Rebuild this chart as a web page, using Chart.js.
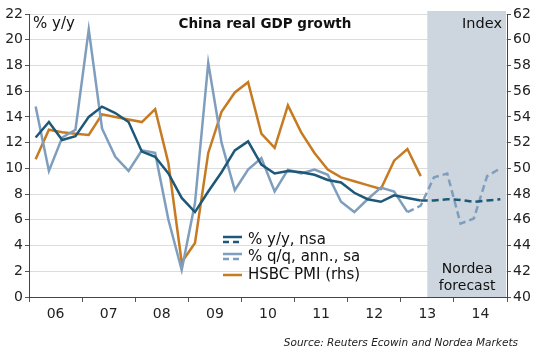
<!DOCTYPE html>
<html>
<head>
<meta charset="utf-8">
<script src="https://cdn.jsdelivr.net/npm/chart.js@4"></script>
<style>
  body { margin: 0; background: #fff; }
  #wrap { width: 535px; height: 354px; }
</style>
</head>
<body>
<div id="wrap"><canvas id="myChart"></canvas></div>
<script>
// year labels, one per 4 quarters (2006Q1 .. 2014Q4)
const years = ['06', '07', '08', '09', '10', '11', '12', '13', '14'];

// China real GDP, % y/y, nsa (last 6 = Nordea forecast)
const gdpYoy = [12.4, 13.6, 12.2, 12.5, 14.0, 14.8, 14.3, 13.6,
  11.3, 10.9, 9.6, 7.7, 6.6, 8.2, 9.7, 11.4,
  12.1, 10.3, 9.6, 9.8, 9.7, 9.5, 9.1, 8.9,
  8.1, 7.6, 7.4, 7.9, 7.7, 7.5,
  7.5, 7.6, 7.55, 7.4, 7.5, 7.6];

// % q/q, annualised, sa (from 2013Q2 = forecast)
const gdpQoq = [14.8, 9.8, 12.4, 13.0, 20.8, 13.1, 10.9, 9.8,
  11.4, 11.2, 6.0, 2.1, 7.3, 18.2, 12.0, 8.3,
  9.9, 10.8, 8.2, 9.9, 9.6, 9.9, 9.5, 7.4,
  6.6, 7.6, 8.5, 8.2, 6.6,
  7.1, 9.3, 9.6, 5.7, 6.1, 9.4, 10.0];

// HSBC PMI, quarterly (rhs)
const pmi = [50.7, 53.0, 52.8, 52.7, 52.6, 54.2, 54.0, 53.8,
  53.6, 54.6, 50.4, 42.7, 44.2, 51.2, 54.4, 55.9,
  56.7, 52.7, 51.6, 54.9, 52.8, 51.2, 49.9, 49.3,
  49.0, 48.7, 48.4, 50.6, 51.5, 49.4];

const lastYoy = 29;   // last actual y/y quarter
const lastQoq = 28;   // last actual q/q quarter
const forecastFrom = 30; // shaded area starts here (2013Q3)

const colYoy = '#1e5878';
const colQoq = '#7f9ebd';
const colPmi = '#c67b22';

const pts = (arr) => arr.map((v, i) => ({ x: i + 0.5, y: v }));

Chart.defaults.font.family = 'DejaVu Sans';
Chart.defaults.font.size = 14;
Chart.defaults.color = '#222';

const extras = {
  id: 'extras',
  beforeDatasetsDraw(chart) {
    const c = chart.ctx, a = chart.chartArea;
    const x0 = chart.scales.x.getPixelForValue(forecastFrom);
    c.save();
    c.fillStyle = '#cdd6df';
    c.fillRect(x0, a.top - 3, a.right - x0 - 1, a.bottom - a.top + 3);
    c.restore();
  },
  afterDatasetsDraw(chart) {
    const c = chart.ctx, a = chart.chartArea;
    const x0 = chart.scales.x.getPixelForValue(forecastFrom);
    c.save();
    c.fillStyle = '#111';
    c.textBaseline = 'middle';
    c.font = 'bold 13.5px "DejaVu Sans"';
    c.textAlign = 'center';
    c.fillText('China real GDP growth', 265, 24);
    c.font = '15px "DejaVu Sans"';
    c.textAlign = 'left';
    c.fillText('% y/y', a.left + 4, 24);
    c.textAlign = 'right';
    c.font = '14.5px "DejaVu Sans"';
    c.fillText('Index', a.right - 5, 24);
    c.textAlign = 'center';
    c.font = '14px "DejaVu Sans"';
    const xm = (x0 + a.right) / 2;
    c.fillText('Nordea', xm, 269);
    c.fillText('forecast', xm, 286);

    // legend
    const lx = 223, lw = 19, tx = 248;
    const rows = [
      { text: '% y/y, nsa', color: colYoy, y: 240, dbl: true },
      { text: '% q/q, ann., sa', color: colQoq, y: 257, dbl: true },
      { text: 'HSBC PMI (rhs)', color: colPmi, y: 275, dbl: false }
    ];
    c.font = '15px "DejaVu Sans"';
    c.textAlign = 'left';
    rows.forEach(r => {
      c.strokeStyle = r.color;
      c.lineWidth = 2.5;
      if (r.dbl) {
        c.setLineDash([]);
        c.beginPath(); c.moveTo(lx, r.y - 3); c.lineTo(lx + lw, r.y - 3); c.stroke();
        c.setLineDash([6, 4]);
        c.beginPath(); c.moveTo(lx, r.y + 2); c.lineTo(lx + lw, r.y + 2); c.stroke();
        c.setLineDash([]);
      } else {
        c.beginPath(); c.moveTo(lx, r.y); c.lineTo(lx + lw, r.y); c.stroke();
      }
      c.fillStyle = '#111';
      c.fillText(r.text, tx, r.y);
    });

    c.font = 'italic 10.5px "DejaVu Sans"';
    c.textAlign = 'right';
    c.fillStyle = '#222';
    c.fillText('Source: Reuters Ecowin and Nordea Markets', 518, 343);
    c.restore();
  }
};

const ctx = document.getElementById('myChart');

new Chart(ctx, {
  type: 'line',
  data: {
    datasets: [
      {
        label: '% y/y, nsa',
        data: pts(gdpYoy),
        borderColor: colYoy,
        borderWidth: 2.5,
        pointRadius: 0,
        segment: { borderDash: (s) => s.p0DataIndex >= lastYoy ? [7, 4] : undefined }
      },
      {
        label: '% q/q, ann., sa',
        data: pts(gdpQoq),
        borderColor: colQoq,
        borderWidth: 2.5,
        pointRadius: 0,
        segment: { borderDash: (s) => s.p0DataIndex >= lastQoq ? [7, 4] : undefined }
      },
      {
        label: 'HSBC PMI (rhs)',
        data: pts(pmi),
        borderColor: colPmi,
        borderWidth: 2.5,
        pointRadius: 0,
        yAxisID: 'y2'
      }
    ]
  },
  plugins: [extras],
  options: {
    responsive: true,
    maintainAspectRatio: false,
    animation: false,
    layout: { padding: { top: 14, bottom: 0, left: 0, right: 0 } },
    plugins: { legend: { display: false }, tooltip: { enabled: false } },
    scales: {
      x: {
        type: 'linear',
        min: 0,
        max: 36,
        afterBuildTicks: (s) => {
          const t = [];
          for (let v = 0; v <= 36; v += 2) t.push({ value: v });
          s.ticks = t;
        },
        afterFit: (s) => { s.height = 57; },
        ticks: {
          autoSkip: false,
          maxRotation: 0,
          padding: 4,
          callback: (v) => (v % 4 === 2 ? years[(v - 2) / 4] : '')
        },
        grid: {
          drawOnChartArea: false,
          tickLength: 5,
          tickColor: (c) => (c.tick && c.tick.value % 4 === 0 ? '#555' : 'rgba(0,0,0,0)')
        },
        border: { color: '#444', width: 1 }
      },
      y: {
        min: 0,
        max: 22,
        afterFit: (s) => { s.width = 29; },
        ticks: { stepSize: 2, padding: 2 },
        grid: { color: '#dcdcdc', tickColor: '#555', tickLength: 4 },
        border: { color: '#444', width: 1 }
      },
      y2: {
        position: 'right',
        min: 40,
        max: 62,
        afterFit: (s) => { s.width = 28; },
        ticks: { stepSize: 2, padding: 2 },
        grid: { drawOnChartArea: false, tickColor: '#555', tickLength: 4 },
        border: { color: '#444', width: 1 }
      }
    }
  }
});
</script>
</body>
</html>
